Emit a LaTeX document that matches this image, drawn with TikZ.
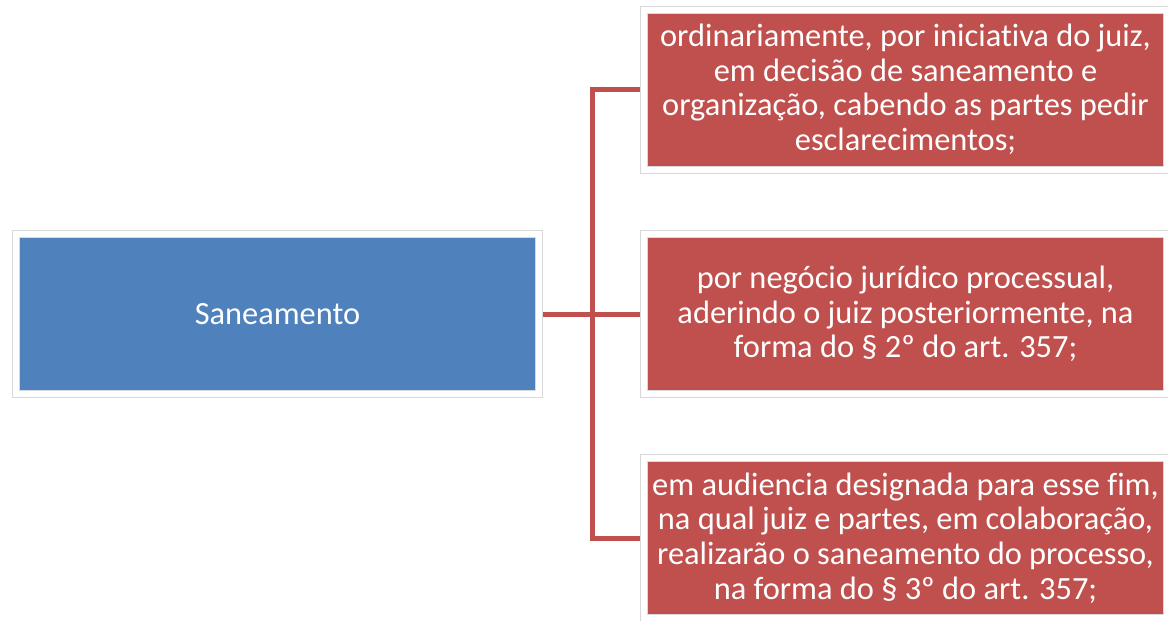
\documentclass[tikz,border=0pt]{standalone}
\usepackage{fontspec}
\setmainfont[Ligatures=NoCommon]{Carlito}
\usepackage{tikz}

\begin{document}
\begin{tikzpicture}[x=0.5pt,y=-0.5pt,
  every node/.style={font=\fontsize{16.2}{17.3}\selectfont, text=white, align=center, inner sep=0pt, outer sep=0pt},
  box/.style={minimum width=261.5pt, minimum height=80pt, draw=gray!30, double=white, double distance=3pt, line width=0.5pt},
  topicbox/.style={box, fill={rgb,255:red,79;green,129;blue,189}},
  itembox/.style={box, fill={rgb,255:red,192;green,80;blue,77}},
  link/.style={draw={rgb,255:red,192;green,80;blue,77}, line width=2.5pt}]
\useasboundingbox (0,0) rectangle (1168,621);
\node[topicbox] (S) at (277.5,314) {Saneamento};
\node[itembox] (R1) at (905.5,89.5) {ordinariamente, por iniciativa do juiz,\\ em decisão de saneamento e\\ organização, cabendo as partes pedir\\ esclarecimentos;};
\node[itembox] (R2) at (905.5,314) {por negócio jurídico processual,\\ aderindo o juiz posteriormente, na\\ forma do § 2º do art. 357;};
\node[itembox] (R3) at (905.5,538) {em audiencia designada para esse fim,\\ na qual juiz e partes, em colaboração,\\ realizarão o saneamento do processo,\\ na forma do § 3º do art. 357;};
\coordinate (fork) at (592,314);
\path[link]
(S.east) edge[shorten <=2pt] (fork)
(fork) edge[shorten >=2pt] (R2.west);
\draw[link, shorten >=2pt] (fork) |- (R1.west);
\draw[link, shorten >=2pt] (fork) |- (R3.west);
\end{tikzpicture}
\end{document}
